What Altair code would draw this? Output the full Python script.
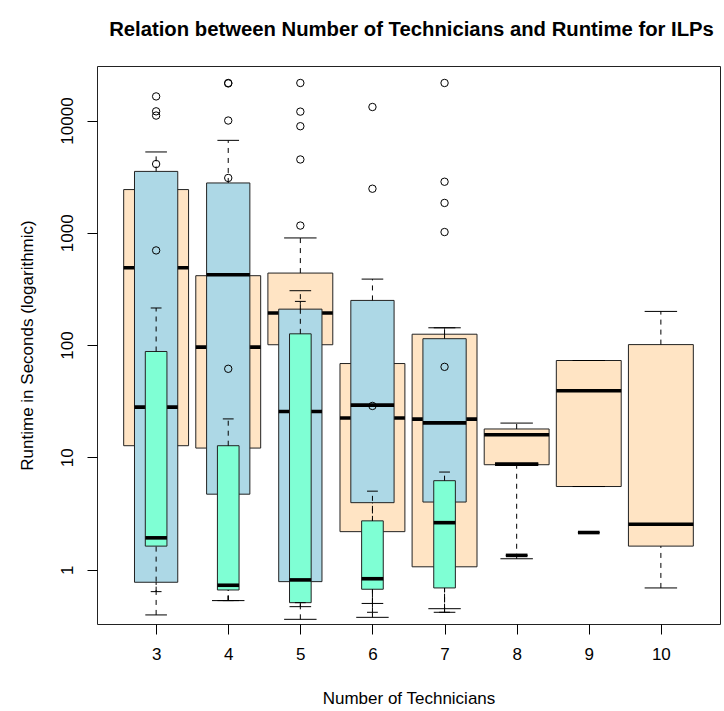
import altair as alt
import pandas as pd

# ---------------- data ----------------
techs = [3, 4, 5, 6, 7, 8, 9, 10]

# wide series (bisque)
orange_tech = [3, 4, 5, 6, 7, 8, 9, 10]
orange_lo = [0.9, 0.53, 0.361, 0.376, 0.449, 1.25, 5.5, 0.687]
orange_q1 = [12.7, 12.1, 100.7, 2.18, 1.06, 8.6, 5.5, 1.62]
orange_med = [489, 96, 193, 22.4, 21.9, 15.9, 39.2, 2.54]
orange_q3 = [2427, 415, 438, 68.5, 125, 17.9, 72.9, 101]
orange_hi = [3000, 1500, 900, 150, 142.6, 20.2, 72.9, 199.5]

# middle series (light blue)
blue_tech = [3, 4, 5, 6, 7, 8]
blue_lo = [0.395, 0.53, 0.468, 0.50, 0.417, 8.7]
blue_q1 = [0.772, 4.7, 0.782, 3.95, 4.0, 8.7]
blue_med = [28, 423, 25.6, 29.2, 20.3, 8.7]
blue_q3 = [3524, 2780, 209, 250, 114, 8.7]
blue_hi = [5250, 6660, 305, 387, 142.6, 8.7]

# narrow series (aquamarine)
green_tech = [3, 4, 5, 6, 7, 8, 9]
green_lo = [0.637, 0.53, 0.508, 0.417, 0.417, 1.34, 2.14]
green_q1 = [1.62, 0.659, 0.508, 0.669, 0.687, 1.34, 2.14]
green_med = [1.92, 0.726, 0.81, 0.83, 2.62, 1.34, 2.14]
green_q3 = [87.7, 12.7, 126, 2.72, 6.2, 1.34, 2.14]
green_hi = [214, 22, 245, 5.0, 7.4, 1.34, 2.14]

# outliers
out_series = ["blue", "blue", "blue", "green", "green",
              "blue", "blue", "blue", "green", "green",
              "blue", "blue", "blue", "blue", "orange",
              "blue", "blue", "green",
              "blue", "blue", "blue", "blue", "green"]
out_tech = [3, 3, 3, 3, 3,
            4, 4, 4, 4, 4,
            5, 5, 5, 5, 5,
            6, 6, 6,
            7, 7, 7, 7, 7]
out_value = [16400, 12080, 11070, 4100, 697,
             21600, 21400, 10000, 3080, 61.5,
             21600, 12000, 8900, 4500, 1160,
             13200, 2470, 28.7,
             21600, 2850, 1845, 1016, 64]

# ---------------- styling ----------------
FILL = {"orange": "#FFE4C4", "blue": "#ADD8E6", "green": "#7FFFD4"}
BOXW = {"orange": 0.9, "blue": 0.6, "green": 0.3}
FONT = "Liberation Sans"

series_data = {
    "orange": (orange_tech, orange_lo, orange_q1, orange_med, orange_q3, orange_hi),
    "blue": (blue_tech, blue_lo, blue_q1, blue_med, blue_q3, blue_hi),
    "green": (green_tech, green_lo, green_q1, green_med, green_q3, green_hi),
}

xscale = alt.Scale(domain=[2.18, 10.82], nice=False, zero=False)
yscale = alt.Scale(type="log", domain=[0.328, 30600], nice=False)

xaxis = alt.Axis(values=techs, format="d", title="Number of Technicians",
                 grid=False, domain=False, ticks=True, tickSize=10,
                 tickColor="black", tickWidth=1,
                 labelFont=FONT, labelFontSize=17, labelColor="black",
                 labelPadding=12, labelBaseline="top", labelOverlap=False,
                 labelFlush=False,
                 titleFont=FONT, titleFontSize=17, titleFontWeight="normal",
                 titleColor="black", titleY=79, titleBaseline="alphabetic")
yaxis = alt.Axis(values=[1, 10, 100, 1000, 10000], format="d",
                 title="Runtime in Seconds (logarithmic)",
                 grid=False, domain=False, ticks=True, tickSize=10,
                 tickColor="black", tickWidth=1,
                 labelFont=FONT, labelFontSize=17, labelColor="black",
                 labelAngle=270, labelAlign="center", labelBaseline="alphabetic",
                 labelPadding=15, labelOverlap=False, labelFlush=False,
                 titleFont=FONT, titleFontSize=17, titleFontWeight="normal",
                 titleColor="black", titleAngle=270, titleAlign="center",
                 titleBaseline="alphabetic", titleX=-65, titleY=279)


def X(f):
    return alt.X(f, type="quantitative", scale=xscale, axis=xaxis)


def Y(f):
    return alt.Y(f, type="quantitative", scale=yscale, axis=yaxis)


layers = []
for s in ["orange", "blue", "green"]:
    t, lo, q1, med, q3, hi = series_data[s]
    df = pd.DataFrame({"tech": t, "lo": lo, "q1": q1, "med": med, "q3": q3, "hi": hi})
    w = BOXW[s]
    base = alt.Chart(df).transform_calculate(
        xl=f"datum.tech - {w / 2}", xr=f"datum.tech + {w / 2}",
        cl=f"datum.tech - {w / 4}", cr=f"datum.tech + {w / 4}")
    box = base.mark_rect(fill=FILL[s], stroke="#222222", strokeWidth=1).encode(
        x=X("xl"), x2="xr", y=Y("q1"), y2="q3")
    wl = base.mark_rule(color="black", strokeWidth=1, strokeDash=[5, 5]).encode(
        x=X("tech"), y=Y("lo"), y2="q1")
    wh = base.mark_rule(color="black", strokeWidth=1, strokeDash=[5, 5]).encode(
        x=X("tech"), y=Y("q3"), y2="hi")
    cl = base.mark_rule(color="black", strokeWidth=1).encode(
        x=X("cl"), x2="cr", y=Y("lo"))
    ch = base.mark_rule(color="black", strokeWidth=1).encode(
        x=X("cl"), x2="cr", y=Y("hi"))
    md = base.mark_rule(color="black", strokeWidth=3.6, strokeCap="butt").encode(
        x=X("xl"), x2="xr", y=Y("med"))
    layers += [box, wl, wh, cl, ch, md]
    od = pd.DataFrame({"series": out_series, "tech": out_tech, "value": out_value})
    od = od[od["series"] == s]
    if len(od):
        pts = alt.Chart(od).mark_point(shape="circle", filled=False, color="black",
                                       size=55, strokeWidth=1, opacity=1).encode(
            x=X("tech"), y=Y("value"))
        layers.append(pts)

chart = alt.layer(*layers).properties(
    width=623, height=558,
    title=alt.TitleParams(
        text="Relation between Number of Technicians and Runtime for ILPs",
        font=FONT, fontSize=20.3, fontWeight="bold", color="black",
        anchor="middle", frame="group", baseline="alphabetic", offset=10, dx=3),
    autosize=alt.AutoSizeParams(type="none"),
    padding={"left": 97, "top": 66, "right": 4, "bottom": 87},
    background="white",
).configure_view(stroke="#222222", strokeWidth=1)

chart.save("out.html", embed_options={"renderer": "svg", "actions": False})
